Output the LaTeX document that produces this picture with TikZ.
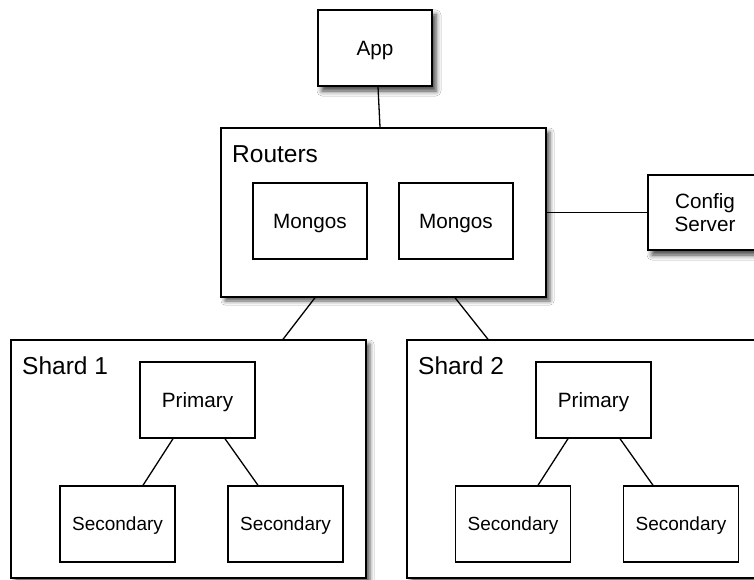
\documentclass[tikz,border=0pt]{standalone}
\usepackage{fontspec}
\setmainfont{Liberation Sans}
\usetikzlibrary{shadows.blur}
\begin{document}
\begin{tikzpicture}[x=1pt,y=-1pt,
  box/.style={draw=black,line width=1.4pt,fill=white,rectangle,inner sep=0pt,
    minimum width=114pt,minimum height=76pt,align=center,text depth=0pt,
    font=\fontsize{20.7}{23}\selectfont},
  shbox/.style={box,blur shadow={shadow xshift=4pt,shadow yshift=-5pt,shadow blur radius=5pt,shadow opacity=75}},
  secbox/.style={box,minimum width=115pt,font=\fontsize{19}{22}\selectfont},
  grp/.style={draw=black,line width=1.4pt,fill=white,rectangle,inner sep=0pt,
    blur shadow={shadow xshift=4pt,shadow yshift=-4pt,shadow blur radius=4pt,shadow opacity=65}},
  lbl/.style={anchor=west,inner sep=0pt,font=\fontsize{24.5}{28}\selectfont},
  conn/.style={draw=black,line width=1.3pt}]
\useasboundingbox (0,0) rectangle (754,580);
\clip (0,0) rectangle (754,580);
\fill[white] (0,0) rectangle (754,580);
% groups
\node[grp,minimum width=325pt,minimum height=169pt] (Routers) at (383.5,212.5) {};
\node[grp,minimum width=355pt,minimum height=238pt] (Shard1) at (188.5,459) {};
\node[grp,minimum width=355pt,minimum height=238pt] (Shard2) at (584.5,459) {};
\node[lbl] (RoutersL) at (232,154) {Routers};
\node[lbl] (Shard1L) at (22,366) {Shard 1};
\node[lbl] (Shard2L) at (418,366) {Shard 2};
% nodes
\node[shbox] (App) at (375,48) {App};
\node[box] (Mongos1) at (310,221) {Mongos};
\node[box] (Mongos2) at (456,221) {Mongos};
\node[shbox,minimum height=75pt,text depth=] (Config) at (705,212.5) {Config\\Server};
\node[box,minimum width=115pt] (Primary1) at (197.5,400) {Primary};
\node[secbox] (Sec1a) at (117.5,524) {Secondary};
\node[secbox] (Sec1b) at (285.5,524) {Secondary};
\node[box,minimum width=115pt] (Primary2) at (593.5,400) {Primary};
\node[secbox] (Sec2a) at (513,524) {Secondary};
\node[secbox] (Sec2b) at (681,524) {Secondary};
% connectors
\draw[conn] ([xshift=3pt]App.south) -- ([xshift=-3.5pt]Routers.north);
\draw[conn] (Routers.east) -- (Config.west);
\draw[conn] ([xshift=-68.5pt]Routers.south) -- ([xshift=94.5pt]Shard1.north);
\draw[conn] ([xshift=71.5pt]Routers.south) -- ([xshift=-96.5pt]Shard2.north);
\draw[conn] ([xshift=-24.5pt]Primary1.south) -- ([xshift=25.5pt]Sec1a.north);
\draw[conn] ([xshift=27.5pt]Primary1.south) -- ([xshift=-27.5pt]Sec1b.north);
\draw[conn] ([xshift=-25.5pt]Primary2.south) -- ([xshift=25pt]Sec2a.north);
\draw[conn] ([xshift=26.5pt]Primary2.south) -- ([xshift=-28pt]Sec2b.north);
\end{tikzpicture}
\end{document}
